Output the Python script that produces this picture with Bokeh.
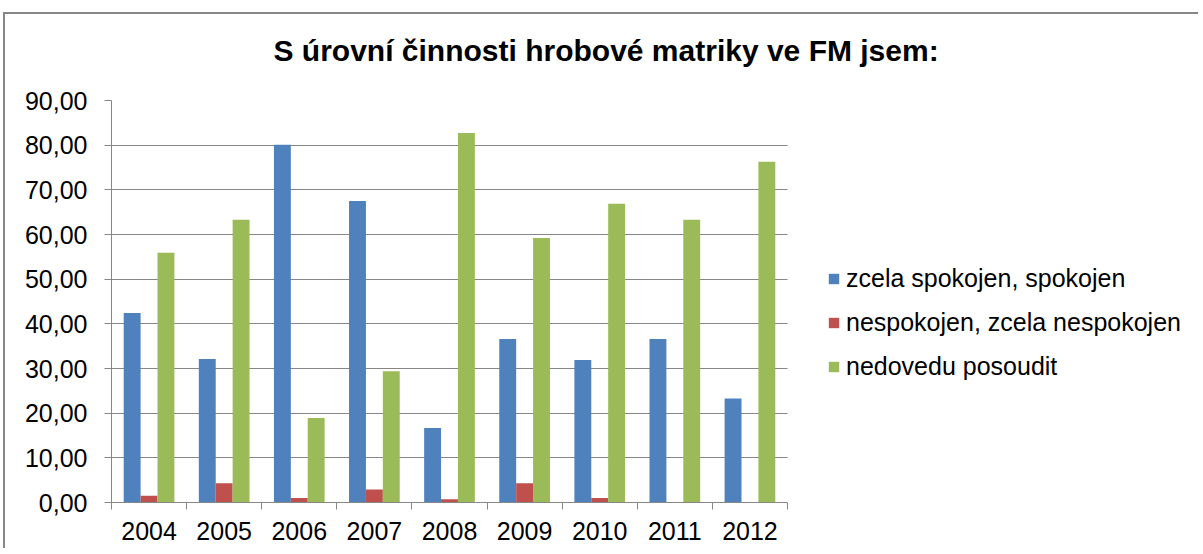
from bokeh.plotting import figure
from bokeh.models import (Range1d, FixedTicker, CustomJSTickFormatter, Legend,
                          LegendItem, ColumnDataSource, Title, Grid)
from bokeh.transform import dodge
from bokeh.embed import file_html
from bokeh.resources import INLINE

years = ["2004", "2005", "2006", "2007", "2008", "2009", "2010", "2011", "2012"]
spokojen = [42.4, 32.1, 80.1, 67.5, 16.7, 36.6, 31.9, 36.6, 23.3]
nespokojen = [1.5, 4.3, 1.0, 2.9, 0.75, 4.3, 1.0, 0.0, 0.0]
nedovedu = [55.9, 63.3, 18.9, 29.4, 82.7, 59.2, 66.9, 63.3, 76.3]
series_names = ["zcela spokojen, spokojen", "nespokojen, zcela nespokojen", "nedovedu posoudit"]
colors = ["#4F81BD", "#C0504D", "#9BBB59"]
title_text = "S úrovní činnosti hrobové matriky ve FM jsem:"
y_ticks = [0, 10, 20, 30, 40, 50, 60, 70, 80, 90]

n = len(years)
idx = list(range(n))
centers = [i + 0.5 for i in idx]
src = ColumnDataSource(dict(x=centers, a=spokojen, b=nespokojen, c=nedovedu))

FONT = "Liberation Sans"
GRAY = "#878787"

# layout: plot area 676 px wide for the categories; the frame continues to the
# right so the legend (drawn inside the frame) is not clipped
W, H = 1195, 536
LEFT, TOP, BOTTOM = 106, 86, 48
PLOT_W = 676
frame_w = W - LEFT
x_end = n * frame_w / PLOT_W

p = figure(width=W, height=H,
           x_range=Range1d(0, x_end), y_range=Range1d(0, 90),
           output_backend="svg", toolbar_location=None,
           min_border_left=LEFT, min_border_right=0,
           min_border_top=TOP, min_border_bottom=BOTTOM)
p.styles = {"margin-left": "3px", "margin-top": "12px",
            "border-top": "2px solid #878787", "border-left": "2px solid #878787"}
p.outline_line_color = None
p.background_fill_color = "white"
p.border_fill_color = "white"

# titles: empty default, spacer next to frame, main title above
p.title.text = ""
spacer = Title(text=" ", text_font_size="16px", text_font=FONT)
p.add_layout(spacer, "above")
main_title = Title(text=title_text, text_font=FONT, text_font_size="30px",
                   text_font_style="bold", text_color="black", align="left", offset=162)
p.add_layout(main_title, "above")

bw = 0.225
r1 = p.vbar(x=dodge("x", -bw), top="a", width=bw, source=src, fill_color=colors[0], line_color=None)
r2 = p.vbar(x=dodge("x", 0), top="b", width=bw, source=src, fill_color=colors[1], line_color=None)
r3 = p.vbar(x=dodge("x", bw), top="c", width=bw, source=src, fill_color=colors[2], line_color=None)

# x axis
xa = p.xaxis[0]
xa.bounds = (0, n)
xa.ticker = FixedTicker(ticks=centers, minor_ticks=idx + [n])
xa.major_label_overrides = {c: y for c, y in zip(centers, years)}
xa.major_tick_out = 7
xa.major_tick_in = 0
xa.major_tick_line_color = None
xa.minor_tick_out = 7
xa.minor_tick_in = 0
xa.minor_tick_line_color = GRAY
xa.axis_line_color = GRAY
xa.major_label_standoff = 12
xa.major_label_text_font = FONT
xa.major_label_text_font_size = "25px"
xa.major_label_text_color = "black"

# y axis
ya = p.yaxis[0]
ya.ticker = FixedTicker(ticks=y_ticks)
ya.formatter = CustomJSTickFormatter(code="return tick.toFixed(2).replace('.', ',');")
ya.major_tick_out = 7
ya.major_tick_in = 0
ya.minor_tick_line_color = None
ya.major_tick_line_color = GRAY
ya.axis_line_color = GRAY
ya.major_label_standoff = 17
ya.major_label_text_font = FONT
ya.major_label_text_font_size = "25px"
ya.major_label_text_color = "black"

p.xgrid.visible = False
yg = p.ygrid[0]
if "cross_bounds" in Grid.properties():
    yg.cross_bounds = (0, n)
    yg.grid_line_color = GRAY
    yg.grid_line_width = 1
else:
    yg.visible = False
    p.segment(x0=[0] * len(y_ticks[1:]), x1=[n] * len(y_ticks[1:]),
              y0=y_ticks[1:], y1=y_ticks[1:], line_color=GRAY, line_width=1)

legend = Legend(items=[LegendItem(label=series_names[0], renderers=[r1]),
                       LegendItem(label=series_names[1], renderers=[r2]),
                       LegendItem(label=series_names[2], renderers=[r3])],
                location=(716, 121))
legend.border_line_color = None
legend.background_fill_alpha = 0
legend.padding = 0
legend.margin = 0
legend.glyph_width = 13
legend.glyph_height = 13
legend.label_standoff = 6
legend.label_text_font = FONT
legend.label_text_font_size = "25px"
legend.label_text_color = "black"
legend.label_height = 29
legend.spacing = 15
p.add_layout(legend, "center")

open("out.html", "w").write(file_html(p, INLINE))
